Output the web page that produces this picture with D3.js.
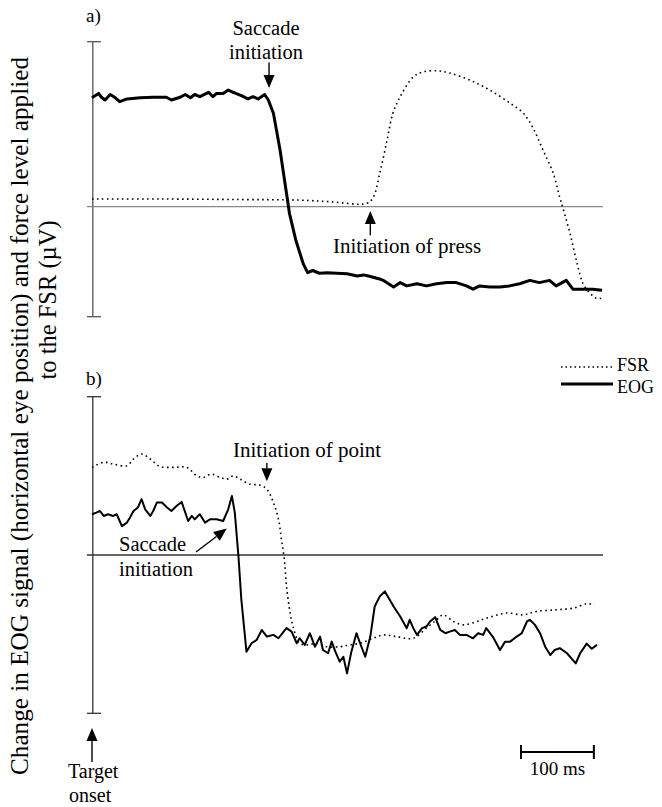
<!DOCTYPE html>
<html>
<head>
<meta charset="utf-8">
<script src="https://cdn.jsdelivr.net/npm/d3@7"></script>
<style>
  html, body { margin: 0; padding: 0; background: #fff; }
</style>
</head>
<body>
<svg id="chart" width="662" height="807" style="font-family: 'Liberation Serif', 'Times New Roman', Times, 'DejaVu Serif', serif;"></svg>
<script>
// ---------- DATA (time in ms from target onset, signal in µV) ----------
// Panel a) EOG
const tA_eog = [0,9,13,18,25,32,38,48,66,84,102,109,121,128,135,141,148,160,166,171,180,187,194,205,214,221,228,237,242,249,258,267,271,280,290,296,303,312,323,336,350,364,373,382,396,400,414,423,432,446,459,473,487,500,514,523,532,546,560,573,587,601,614,628,637,651,660,669,678,687,700];
const vA_eog = [99,103,99.5,97,102,99,95.5,98,99,99.5,99.5,97,99.5,102,99,102,100,104,100,103,103,106,104,101,98,100,98,102,97,85,52,12,-6,-31,-52,-60,-58,-60.5,-60,-60.5,-61,-63,-62,-63.5,-66,-67,-73,-69,-72,-70,-72,-70,-69,-69,-72,-75,-72,-73,-73,-72,-70,-67,-69,-67,-72,-67,-75,-75,-75,-75,-76];
// Panel a) FSR
const tA_fsr = [0,93,203,285,327,377,386,395,405,413,423,441,454,474,491,519,546,574,592,605,619,633,642,646,656,666,674,684,693,700];
const vA_fsr = [7,7,6.5,6,4.5,3,8.5,30.5,60.5,85,100,118,122.5,123.5,121.5,115,106,94,85,72,51.5,30.5,8.5,-0.5,-24,-52,-70,-79,-83.5,-83];
// Panel b) EOG
const tB_eog = [0,6,11,16,22,29,34,41,48,52,57,63,68,73,80,84,89,96,103,109,116,123,132,137,141,148,155,162,171,180,187,192,196,201,205,212,219,226,233,240,249,256,263,267,274,281,285,292,299,306,313,317,324,329,334,340,345,350,356,363,368,375,382,388,395,402,414,423,432,436,441,446,453,459,464,471,478,485,491,498,505,514,523,530,537,541,550,560,567,574,583,590,597,601,608,615,622,629,635,642,652,658,664,670,679,686,693];
const vB_eog = [38.6,40.2,41.7,37,38.6,37,38.6,27.4,30.7,35.4,41.7,45,52.9,43.3,37,41.7,49.7,49.7,45,41.7,46.5,50.3,32.2,37,33.8,38.6,30.7,33.8,33.8,32.2,43.3,56,40.2,-1.1,-42.4,-91.6,-83.6,-80.5,-71,-77.3,-75.7,-78.9,-72.6,-69.3,-72.6,-83.6,-78.9,-85.2,-74.1,-86.9,-77.3,-90,-93.1,-82.1,-91.6,-101.1,-96.4,-112.2,-91.6,-74.1,-83.6,-96.4,-77.3,-48.8,-39.2,-34.5,-48.8,-58.3,-69.3,-61.4,-69.3,-75.7,-69.3,-67.8,-63,-58.9,-71,-74.1,-72.6,-71,-75.7,-75.7,-78.9,-74.1,-75.7,-69.3,-77.3,-90,-82.1,-82.1,-77.3,-74.1,-63,-61.4,-66.2,-74.1,-86.9,-94.8,-90,-88.3,-93.1,-97.9,-102.7,-93.1,-84,-88.8,-85.2];
// Panel b) FSR
const tB_fsr = [0,16,29,48,57,68,80,93,112,130,144,153,164,176,185,194,203,217,231,240,249,256,260,264,267,272,276,285,297,308,322,340,354,368,386,400,418,441,459,473,482,496,510,528,546,569,592,610,638,661,679,690];
const vB_fsr = [83,87.8,86.2,84.6,91,95.7,91,84,83,83,75,73.5,76.7,73.5,71.9,75,71.9,67.1,66.2,62.4,49.7,33.8,14.8,-4.3,-29.7,-55,-67.8,-83.6,-85.2,-83.6,-86.9,-86.9,-85.2,-83.6,-78.9,-75.7,-77.3,-78.9,-69.3,-61.4,-56.7,-63,-66.2,-63,-58.9,-55,-56.7,-53.5,-51.9,-50.3,-46.2,-47.1];

const seriesNames = ["FSR", "EOG"];
const panelLabels = ["a)", "b)"];
const scaleBarMs = 100;
const yTitle = ["Change in EOG signal (horizontal eye  position) and force level applied", "to the FSR (\u00B5V)"];

const FONT = "'Liberation Serif', 'Times New Roman', Times, 'DejaVu Serif', serif";

// ---------- SCALES ----------
const svg = d3.select("#chart");
svg.append("rect").attr("width", 662).attr("height", 807).attr("fill", "#fff");

const x = d3.scaleLinear().domain([0, 700]).range([92, 602]);
const yA = d3.scaleLinear().domain([-100, 150]).range([316.7, 41.7]);
const yB = d3.scaleLinear().domain([-150, 150]).range([713.3, 396.7]);

const zip = (t, v) => t.map((d, i) => [d, v[i]]);

function txt(g, xp, yp, s, size, anchor) {
  return g.append("text").attr("x", xp).attr("y", yp)
    .attr("font-family", FONT).style("font-family", FONT)
    .attr("font-size", size).attr("fill", "#000")
    .attr("text-anchor", anchor || "start").text(s);
}

function arrow(g, x1, y1, x2, y2, headLen = 13, headW = 5.5) {
  const ang = Math.atan2(y2 - y1, x2 - x1);
  const bx = x2 - headLen * Math.cos(ang), by = y2 - headLen * Math.sin(ang);
  g.append("line").attr("x1", x1).attr("y1", y1).attr("x2", bx).attr("y2", by)
    .attr("stroke", "#000").attr("stroke-width", 1.4);
  const px = -Math.sin(ang) * headW, py = Math.cos(ang) * headW;
  g.append("path")
    .attr("d", `M${x2},${y2}L${bx + px},${by + py}L${bx - px},${by - py}Z`)
    .attr("fill", "#000");
}

function panel(y, axisColor, zeroColor, eogData, fsrData, eogWidth) {
  const g = svg.append("g");
  const [y0, y1] = y.range();
  g.append("line").attr("x1", x(0) + 0.8).attr("x2", x(0) + 0.8).attr("y1", y1).attr("y2", y0)
    .attr("stroke", axisColor).attr("stroke-width", 1.3);
  [y0, y1].forEach(v => g.append("line").attr("x1", x(0) - 5).attr("x2", x(0) + 9)
    .attr("y1", v).attr("y2", v).attr("stroke", axisColor).attr("stroke-width", 1.3));
  g.append("line").attr("x1", x(0) - 5).attr("x2", x(700) + 1).attr("y1", y(0)).attr("y2", y(0))
    .attr("stroke", zeroColor).attr("stroke-width", 1.3);
  g.append("path").datum(fsrData)
    .attr("d", d3.line().x(d => x(d[0])).y(d => y(d[1])).curve(d3.curveCatmullRom))
    .attr("fill", "none").attr("stroke", "#000").attr("stroke-width", 1.6)
    .attr("stroke-dasharray", "1.6,3.4");
  g.append("path").datum(eogData)
    .attr("d", d3.line().x(d => x(d[0])).y(d => y(d[1])))
    .attr("fill", "none").attr("stroke", "#000").attr("stroke-width", eogWidth)
    .attr("stroke-linejoin", "round");
  return g;
}

panel(yA, "#555", "#888", zip(tA_eog, vA_eog), zip(tA_fsr, vA_fsr), 3);
panel(yB, "#333", "#333", zip(tB_eog, vB_eog), zip(tB_fsr, vB_fsr), 2);

// ---------- PANEL LABELS ----------
txt(svg, 86, 22, panelLabels[0], 19);
txt(svg, 86, 385, panelLabels[1], 19);

// ---------- ANNOTATIONS ----------
const ann = svg.append("g");
txt(ann, 266, 35, "Saccade", 20.5, "middle");
txt(ann, 266, 59, "initiation", 20.5, "middle");
arrow(ann, x(243), yA(131), x(243), yA(108));
txt(ann, 333, 253, "Initiation of press", 21);
arrow(ann, x(382), yA(-26), x(382), yA(-4));
txt(ann, 233, 457, "Initiation of point", 21);
arrow(ann, x(240), 463, x(240), yB(70));
txt(ann, 119, 551, "Saccade", 20.5);
txt(ann, 119, 576, "initiation", 20.5);
arrow(ann, 196, 552, x(185), yB(25));
arrow(ann, x(0), 762, x(0), 728);
txt(ann, 68, 778, "Target", 20);
txt(ann, 69, 802, "onset", 20);

// ---------- SCALE BAR ----------
const sb = svg.append("g");
const sbX0 = 521, sbX1 = sbX0 + (x(scaleBarMs) - x(0)), sbY = 752;
sb.append("line").attr("x1", sbX0).attr("x2", sbX1).attr("y1", sbY).attr("y2", sbY).attr("stroke", "#000").attr("stroke-width", 2);
[sbX0, sbX1].forEach(v => sb.append("line").attr("x1", v).attr("x2", v).attr("y1", sbY - 7).attr("y2", sbY + 7).attr("stroke", "#000").attr("stroke-width", 2));
txt(sb, (sbX0 + sbX1) / 2, 775, scaleBarMs + " ms", 19, "middle");

// ---------- LEGEND ----------
const lg = svg.append("g");
lg.append("line").attr("x1", 561).attr("x2", 612).attr("y1", 367).attr("y2", 367)
  .attr("stroke", "#000").attr("stroke-width", 1.4).attr("stroke-dasharray", "1.5,3");
txt(lg, 617, 371, seriesNames[0], 18);
lg.append("line").attr("x1", 561).attr("x2", 613).attr("y1", 384).attr("y2", 384)
  .attr("stroke", "#000").attr("stroke-width", 3);
txt(lg, 617, 393, seriesNames[1], 18);

// ---------- Y TITLE ----------
txt(svg, 0, 0, yTitle[0], 24.5, "middle")
  .attr("transform", `translate(28,416) rotate(-90)`)
  .attr("textLength", 718).attr("lengthAdjust", "spacingAndGlyphs");
txt(svg, 0, 0, yTitle[1], 24.5, "middle")
  .attr("transform", `translate(56,300) rotate(-90)`);
</script>
</body>
</html>
